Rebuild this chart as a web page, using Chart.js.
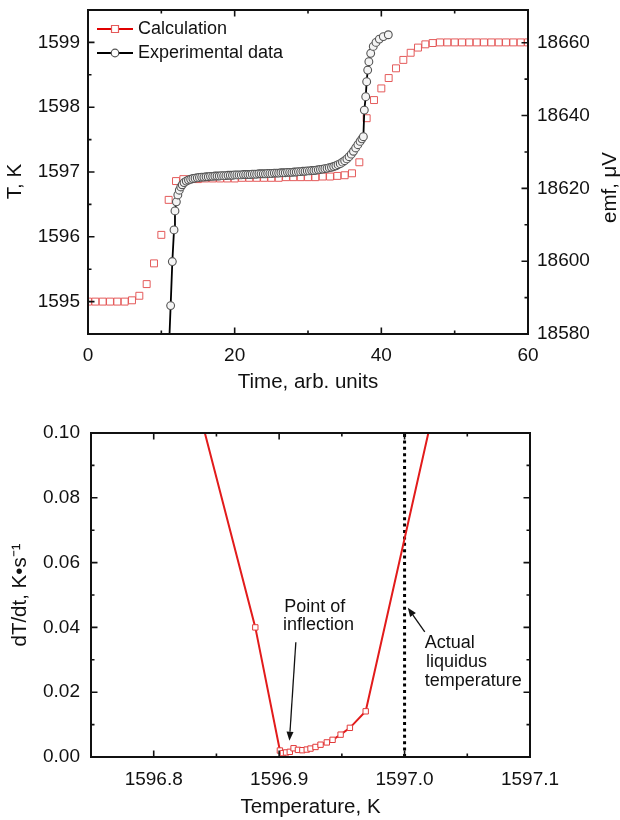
<!DOCTYPE html>
<html>
<head>
<meta charset="utf-8">
<script src="https://cdn.jsdelivr.net/npm/chart.js@4.4.1/dist/chart.umd.min.js"></script>
<style>
html,body{margin:0;padding:0;background:#fff;}
#wrap{width:620px;height:820px;position:relative;background:#fff;}
canvas{display:block;}
</style>
</head>
<body>
<div id="wrap">
<canvas id="topChart" width="620" height="410"></canvas>
<canvas id="bottomChart" width="620" height="410"></canvas>
</div>
<script>
// ---------------- data (top panel) ----------------
const calcTime = [0,1,2,3,4,5,6,7,8,9,10,11,12,13,14,15,16,17,18,19,20,21,22,23,24,25,26,27,28,29,30,
  31,32,33,34,35,36,37,38,39,40,41,42,43,44,45,46,47,48,49,50,51,52,53,54,55,56,57,58,59,60];
const calcT = [1595.00,1595.00,1595.00,1595.00,1595.00,1595.00,
  1595.02,1595.09,1595.27,1595.59,1596.03,1596.57,1596.86,
  1596.89,1596.89,1596.89,1596.90,1596.90,1596.90,1596.90,1596.90,
  1596.91,1596.91,1596.91,1596.91,1596.91,1596.91,1596.92,1596.92,1596.92,1596.92,
  1596.92,1596.93,1596.93,1596.94,1596.95,1596.98,
  1597.15,1597.83,1598.11,1598.29,1598.45,1598.60,1598.73,1598.84,1598.92,1598.97,1598.99,
  1599.00,1599.00,1599.00,1599.00,1599.00,1599.00,1599.00,1599.00,1599.00,1599.00,1599.00,1599.00,1599.00];

const expTime = [11.00,11.27,11.50,11.73,11.86,12.05,12.25,12.45,12.65,12.85,13.10,13.40,13.70,
  14.00,14.30,14.60,14.90,15.20,15.50,15.80,16.10,16.40,16.70,17.00,17.30,17.60,17.90,
  18.20,18.50,18.80,19.10,19.40,19.70,20.00,20.30,20.60,20.90,21.20,21.50,21.80,
  22.10,22.40,22.70,23.00,23.30,23.60,23.90,24.20,24.50,24.80,25.10,25.40,25.70,
  26.00,26.30,26.60,26.90,27.20,27.50,27.80,28.10,28.40,28.70,29.00,29.30,29.60,29.90,
  30.20,30.50,30.80,31.10,31.40,31.70,32.00,32.30,32.60,32.90,33.20,33.50,33.80,
  34.10,34.40,34.70,35.00,35.30,35.60,35.90,36.20,36.50,36.80,37.10,37.35,37.55,
  37.68,37.87,38.00,38.14,38.30,38.55,38.90,39.27,39.73,40.27,40.95];
const expEmf = [18574.0,18587.8,18599.9,18608.6,18613.8,18616.3,18618.2,18619.5,18620.4,18621.0,18621.6,18622.0,18622.3,
  18622.5,18622.7,18622.8,18622.9,18623.0,18623.1,18623.1,18623.2,18623.2,18623.3,18623.3,18623.4,18623.4,18623.4,
  18623.5,18623.5,18623.5,18623.6,18623.6,18623.6,18623.7,18623.7,18623.7,18623.7,18623.8,18623.8,18623.8,
  18623.8,18623.9,18623.9,18623.9,18624.0,18624.0,18624.0,18624.0,18624.1,18624.1,18624.1,18624.2,18624.2,
  18624.2,18624.3,18624.3,18624.3,18624.4,18624.4,18624.4,18624.5,18624.5,18624.6,18624.6,18624.7,18624.7,18624.8,
  18624.8,18624.9,18624.9,18625.0,18625.1,18625.2,18625.3,18625.4,18625.5,18625.7,18625.8,18626.0,18626.2,
  18626.5,18626.8,18627.2,18627.6,18628.1,18628.7,18629.4,18630.2,18631.1,18632.0,18632.9,18633.6,18634.2,
  18641.5,18645.2,18649.3,18652.5,18654.8,18657.1,18659.0,18660.1,18661.0,18661.7,18662.2];

const timeTickLabels = [0, 20, 40, 60];
const tTickLabels = [1595, 1596, 1597, 1598, 1599];
const emfTickLabels = [18580, 18600, 18620, 18640, 18660];

// ---------------- data (bottom panel) ----------------
const rateTemp = [1596.820,1596.881,1596.9006,1596.9030,1596.9055,1596.9085,1596.9115,1596.9150,1596.9185,
  1596.9220,1596.9250,1596.9290,1596.9330,1596.9380,1596.9426,1596.9490,1596.9564,1596.9690,1597.0300];
const rateValue = [0.131,0.040,0.0020,0.0012,0.0014,0.0016,0.0027,0.0022,0.0021,
  0.0023,0.0026,0.0031,0.0038,0.0045,0.0053,0.0069,0.0090,0.0141,0.119];
const liquidusTemp = [1597.0, 1597.0];
const liquidusRate = [0.0, 0.10];

const tempTickLabels = [1596.8, 1596.9, 1597.0, 1597.1];
const rateTickLabels = [0.00, 0.02, 0.04, 0.06, 0.08, 0.10];

const noteTexts = ['Point of', 'inflection', 'Actual', 'liquidus', 'temperature'];
const noteTemp = [1596.904, 1596.903, 1597.016, 1597.017, 1597.016];
const noteRate = [0.0464, 0.0408, 0.0352, 0.0292, 0.0233];
const arrowFromTemp = [1596.9133, 1597.0161];
const arrowFromRate = [0.0354, 0.0386];
const arrowToTemp = [1596.9082, 1597.0026];
const arrowToRate = [0.0050, 0.0461];

// ---------------- helpers ----------------
const FONT = '"Liberation Sans", Arial, Helvetica, sans-serif';
Chart.defaults.font.family = FONT;
Chart.defaults.font.size = 19;
Chart.defaults.color = '#111';

function labelIf(v, list, dec) {
  return list.some(a => Math.abs(a - v) < 1e-6) ? Number(v).toFixed(dec) : '';
}

const frameTicks = {
  id: 'frameTicks',
  afterDraw(chart, args, opts) {
    const {ctx, chartArea: a} = chart;
    const mirror = opts.mirror || [];
    ctx.save();
    ctx.strokeStyle = '#111';
    ctx.lineWidth = 1.6;
    ctx.beginPath();
    Object.keys(chart.scales).forEach(id => {
      const s = chart.scales[id];
      s.ticks.forEach(t => {
        const major = t.label !== '' && t.label != null;
        const len = major ? 6.5 : 3.5;
        const p = s.getPixelForValue(t.value);
        if (s.position === 'bottom') {
          ctx.moveTo(p, a.bottom); ctx.lineTo(p, a.bottom - len);
          if (mirror.includes(id)) { ctx.moveTo(p, a.top); ctx.lineTo(p, a.top + len); }
        } else if (s.position === 'left') {
          ctx.moveTo(a.left, p); ctx.lineTo(a.left + len, p);
          if (mirror.includes(id)) { ctx.moveTo(a.right, p); ctx.lineTo(a.right - len, p); }
        } else if (s.position === 'right') {
          ctx.moveTo(a.right, p); ctx.lineTo(a.right - len, p);
        }
      });
    });
    ctx.stroke();
    ctx.lineWidth = 2;
    ctx.strokeRect(a.left, a.top, a.right - a.left, a.bottom - a.top);
    ctx.restore();
  }
};

const topDecor = {
  id: 'topDecor',
  afterDraw(chart) {
    const {ctx, chartArea: a} = chart;
    ctx.save();
    // legend
    ctx.font = '18px ' + FONT;
    ctx.textBaseline = 'middle';
    ctx.textAlign = 'left';
    chart.data.datasets.forEach((ds, i) => {
      const y = a.top + 19 + i * 24;
      const x0 = a.left + 9, x1 = a.left + 45, xc = (x0 + x1) / 2;
      ctx.strokeStyle = ds.borderColor;
      ctx.lineWidth = 2;
      ctx.beginPath(); ctx.moveTo(x0, y); ctx.lineTo(x1, y); ctx.stroke();
      ctx.fillStyle = '#fff';
      ctx.strokeStyle = ds.pointBorderColor;
      ctx.lineWidth = 1.2;
      ctx.beginPath();
      if (ds.pointStyle === 'rect') ctx.rect(xc - 3.5, y - 3.5, 7, 7);
      else ctx.arc(xc, y, 3.8, 0, Math.PI * 2);
      ctx.fill(); ctx.stroke();
      ctx.fillStyle = '#111';
      ctx.fillText(ds.label, a.left + 50, y + 0.5);
    });
    // axis titles (both read bottom-to-top)
    ctx.font = '20.5px ' + FONT;
    ctx.textAlign = 'center';
    ctx.fillStyle = '#111';
    [['T, K', 15.5, 181.5], ['emf, \u03bcV', 610, 187.5]].forEach(([txt, x, y]) => {
      ctx.save(); ctx.translate(x, y); ctx.rotate(-Math.PI / 2);
      ctx.fillText(txt, 0, 0); ctx.restore();
    });
    ctx.restore();
  }
};

const bottomNotes = {
  id: 'bottomNotes',
  afterDraw(chart) {
    const {ctx, scales: {x, y}} = chart;
    ctx.save();
    ctx.font = '18px ' + FONT;
    ctx.fillStyle = '#111';
    ctx.textBaseline = 'middle';
    ctx.textAlign = 'left';
    noteTexts.forEach((t, i) => ctx.fillText(t, x.getPixelForValue(noteTemp[i]), y.getPixelForValue(noteRate[i])));
    ctx.strokeStyle = '#111';
    ctx.lineWidth = 1.3;
    arrowFromTemp.forEach((_, i) => {
      const x1 = x.getPixelForValue(arrowFromTemp[i]), y1 = y.getPixelForValue(arrowFromRate[i]);
      const x2 = x.getPixelForValue(arrowToTemp[i]), y2 = y.getPixelForValue(arrowToRate[i]);
      const ang = Math.atan2(y2 - y1, x2 - x1);
      const hl = 9, hw = 3.5;
      const bx = x2 - hl * Math.cos(ang), by = y2 - hl * Math.sin(ang);
      ctx.beginPath(); ctx.moveTo(x1, y1); ctx.lineTo(bx, by); ctx.stroke();
      ctx.beginPath();
      ctx.moveTo(x2, y2);
      ctx.lineTo(bx + hw * Math.sin(ang), by - hw * Math.cos(ang));
      ctx.lineTo(bx - hw * Math.sin(ang), by + hw * Math.cos(ang));
      ctx.closePath(); ctx.fillStyle = '#111'; ctx.fill();
    });
    ctx.restore();
  }
};

// ---------------- top chart ----------------
new Chart(document.getElementById('topChart'), {
  type: 'line',
  data: {
    datasets: [
      {
        label: 'Calculation',
        data: calcTime.map((t, i) => ({x: t, y: calcT[i]})),
        yAxisID: 'y',
        showLine: false,
        borderColor: '#e00000',
        pointStyle: 'rect',
        pointRadius: 4.9,
        pointBorderWidth: 1,
        pointBorderColor: '#e45a5a',
        pointBackgroundColor: 'rgba(255,255,255,0)',
        clip: 0,
        order: 1
      },
      {
        label: 'Experimental data',
        data: expTime.map((t, i) => ({x: t, y: expEmf[i]})),
        yAxisID: 'y2',
        borderColor: '#000',
        borderWidth: 1.8,
        pointStyle: 'circle',
        pointRadius: 3.9,
        pointBorderWidth: 1.1,
        pointBorderColor: '#555555',
        pointBackgroundColor: '#f4f4f4',
        clip: 0,
        order: 0
      }
    ]
  },
  options: {
    responsive: false,
    animation: false,
    events: [],
    layout: {padding: {top: 10, right: 0, bottom: 0, left: 0}},
    plugins: {legend: {display: false}, tooltip: {enabled: false}, frameTicks: {mirror: ['x']}},
    scales: {
      x: {
        type: 'linear', position: 'bottom', min: 0, max: 60,
        grid: {display: false, drawTicks: false}, border: {display: false},
        ticks: {stepSize: 10, autoSkip: false, maxRotation: 0, padding: 10,
          callback: v => labelIf(v, timeTickLabels, 0)},
        title: {display: true, text: 'Time, arb. units', font: {size: 20.5}, padding: {top: 0, bottom: 15}},
        afterFit: s => { s.height = 76; s.paddingLeft = 0; s.paddingRight = 0; }
      },
      y: {
        type: 'linear', position: 'left', min: 1594.5, max: 1599.5,
        grid: {display: false, drawTicks: false}, border: {display: false},
        ticks: {stepSize: 0.5, autoSkip: false, padding: 8,
          callback: v => labelIf(v, tTickLabels, 0)},
        afterFit: s => { s.width = 88; s.paddingTop = 0; s.paddingBottom = 0; }
      },
      y2: {
        type: 'linear', position: 'right', min: 18580, max: 18669,
        grid: {display: false, drawTicks: false}, border: {display: false},
        ticks: {stepSize: 10, autoSkip: false, padding: 9,
          callback: v => labelIf(v, emfTickLabels, 0)},
        afterBuildTicks: s => { s.ticks = s.ticks.filter(t => Math.abs(t.value / 10 - Math.round(t.value / 10)) < 1e-6); },
        afterFit: s => { s.width = 92; s.paddingTop = 0; s.paddingBottom = 0; }
      }
    }
  },
  plugins: [frameTicks, topDecor]
});

// ---------------- bottom chart ----------------
new Chart(document.getElementById('bottomChart'), {
  type: 'line',
  data: {
    datasets: [
      {
        label: 'dT/dt',
        data: rateTemp.map((t, i) => ({x: t, y: rateValue[i]})),
        borderColor: '#e21b1b',
        borderWidth: 2,
        pointStyle: 'rect',
        pointRadius: 3.8,
        pointBorderWidth: 1,
        pointBorderColor: '#e23a3a',
        pointBackgroundColor: '#ffffff',
        clip: 0
      },
      {
        label: 'Actual liquidus temperature',
        data: liquidusTemp.map((t, i) => ({x: t, y: liquidusRate[i]})),
        borderColor: '#000',
        borderWidth: 3,
        borderDash: [3, 3.4],
        pointRadius: 0,
        clip: 0
      }
    ]
  },
  options: {
    responsive: false,
    animation: false,
    events: [],
    layout: {padding: {top: 23, right: 90, bottom: 0, left: 0}},
    plugins: {legend: {display: false}, tooltip: {enabled: false}, frameTicks: {mirror: ['x', 'y']}},
    scales: {
      x: {
        type: 'linear', position: 'bottom', min: 1596.75, max: 1597.1,
        grid: {display: false, drawTicks: false}, border: {display: false},
        ticks: {stepSize: 0.05, autoSkip: false, maxRotation: 0, padding: 11,
          callback: v => labelIf(v, tempTickLabels, 1)},
        title: {display: true, text: 'Temperature, K', font: {size: 20.5}, padding: {top: 0, bottom: 0}},
        afterFit: s => { s.height = 63; s.paddingLeft = 0; s.paddingRight = 0; }
      },
      y: {
        type: 'linear', position: 'left', min: 0, max: 0.1,
        grid: {display: false, drawTicks: false}, border: {display: false},
        ticks: {stepSize: 0.01, autoSkip: false, padding: 11,
          callback: v => labelIf(v, rateTickLabels, 2)},
        title: {display: true, text: 'dT/dt, K\u2022s\u207B\u00B9', font: {size: 20.5}, padding: {top: 8, bottom: 0}},
        afterFit: s => { s.width = 91; s.paddingTop = 0; s.paddingBottom = 0; }
      }
    }
  },
  plugins: [frameTicks, bottomNotes]
});
</script>
</body>
</html>
